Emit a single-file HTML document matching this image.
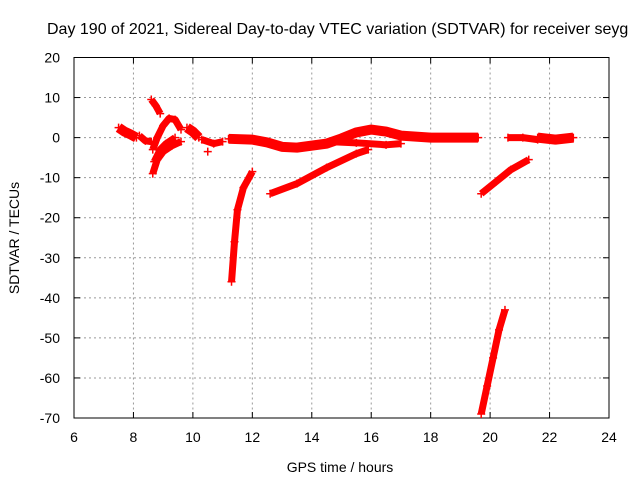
<!DOCTYPE html>
<html><head><meta charset="utf-8"><style>body{margin:0;background:#fff}svg{display:block;font-family:"Liberation Sans",sans-serif}</style></head>
<body>
<svg id="c" width="640" height="480"></svg>
<script>
const xTicks=[6,8,10,12,14,16,18,20,22,24];
const yTicks=[20,10,0,-10,-20,-30,-40,-50,-60,-70];
const seg1=[[7.5,2.5],[7.7,1.5],[7.9,0.8],[8.1,0]];
const seg2=[[8.2,0.5],[8.4,-0.8],[8.6,-1]];
const seg3=[[8.6,9.5],[8.75,8],[8.9,6]];
const seg4=[[8.65,-3],[8.8,0],[9.0,3],[9.2,4.8],[9.4,4.5],[9.6,2]];
const seg5=[[8.65,-9],[8.8,-5.5],[9.0,-3.5],[9.3,-2],[9.6,-1]];
const seg5b=[[8.7,-6],[8.9,-3],[9.1,-1.5],[9.4,0]];
const seg6=[[9.8,2.5],[10,1.5],[10.2,0]];
const seg7=[[10.3,-0.5],[10.7,-1.5],[11,-1]];
const seg8=[[10.5,-3.5]];
const seg9=[[11.3,-36],[11.4,-26],[11.5,-18],[11.7,-12.5],[12,-8.5]];
const seg10=[[11.2,-0.3],[12,-0.5],[12.5,-1.2],[13,-2.3],[13.5,-2.5],[14,-2],[14.5,-1.5],[15,-0.2],[15.5,1.3],[16,2],[16.5,1.5],[17,0.5],[18,0],[19,0],[19.6,0]];
const seg11=[[14.6,-1],[15.5,-1.3],[16.5,-1.8],[17,-1.5]];
const seg12=[[12.6,-14],[13.5,-11.5],[14.5,-7.5],[15.5,-4],[15.9,-3]];
const seg13=[[19.7,-14],[20.2,-11],[20.7,-8],[21.3,-5.5]];
const seg14=[[20.6,0],[21.1,0],[21.6,-0.5]];
const seg15=[[21.6,0],[22.2,-0.5],[22.8,0]];
const seg16=[[19.7,-69],[19.9,-62],[20.1,-55],[20.3,-48],[20.5,-43]];
const segments=[seg1,seg2,seg3,seg4,seg5,seg5b,seg6,seg7,seg8,seg9,seg10,seg11,seg12,seg13,seg14,seg15,seg16];
const L=74,R=609,T=57.5,B=418;
const X=v=>L+(v-6)/18*(R-L);
const Y=v=>T+(20-v)/90*(B-T);
const s=document.getElementById('c');
const NS='http://www.w3.org/2000/svg';
function mk(t,a,p){const e=document.createElementNS(NS,t);for(const k in a)e.setAttribute(k,a[k]);(p||s).appendChild(e);return e;}
let e;
e=mk('text',{x:47,y:34,'text-anchor':'start','font-size':16,fill:'#000'});e.textContent='Day 190 of 2021, Sidereal Day-to-day VTEC variation (SDTVAR) for receiver seyg';


xTicks.forEach(v=>{
 if(v>6&&v<24){const g=mk('line',{x1:X(v),x2:X(v),y1:T,y2:B,stroke:'#999','stroke-dasharray':'2,3'});}
 mk('line',{x1:X(v),x2:X(v),y1:B,y2:B-6,stroke:'#000'});mk('line',{x1:X(v),x2:X(v),y1:T,y2:T+6,stroke:'#000'});
 const t=mk('text',{x:X(v),y:B+24,'text-anchor':'middle','font-size':14});t.textContent=v;
 
 
});
yTicks.forEach(v=>{
 if(v<20&&v>-70){const g=mk('line',{x1:L,x2:R,y1:Y(v),y2:Y(v),stroke:'#999','stroke-dasharray':'2,3'});}
 mk('line',{x1:L,x2:L+6,y1:Y(v),y2:Y(v),stroke:'#000'});mk('line',{x1:R,x2:R-6,y1:Y(v),y2:Y(v),stroke:'#000'});
 const t=mk('text',{x:L-14,y:Y(v)+5,'text-anchor':'end','font-size':14});t.textContent=v;
 
 
});
e=mk('rect',{x:L,y:T,width:R-L,height:B-T,fill:'none',stroke:'#000'});


e=mk('text',{x:340,y:472,'text-anchor':'middle','font-size':14});e.textContent='GPS time / hours';


e=mk('text',{x:0,y:0,'text-anchor':'middle','font-size':14,transform:'translate(19,238) rotate(-90)'});e.textContent='SDTVAR / TECUs';


segments.forEach(sg=>{
 const g=mk('g',{});
 
 
 const w=(sg===seg10||sg===seg1||sg===seg6||sg===seg15)?10:7;
 if(sg.length>1)mk('polyline',{points:sg.map(p=>X(p[0])+','+Y(p[1])).join(' '),fill:'none',stroke:'#f00','stroke-width':w,'stroke-linejoin':'round'},g);
 sg.forEach(p=>{const x=X(p[0]),y=Y(p[1]);mk('path',{d:`M${x-4},${y}H${x+4}M${x},${y-4}V${y+4}`,stroke:'#f00','stroke-width':1.5},g);});
});
</script>
</body></html>
